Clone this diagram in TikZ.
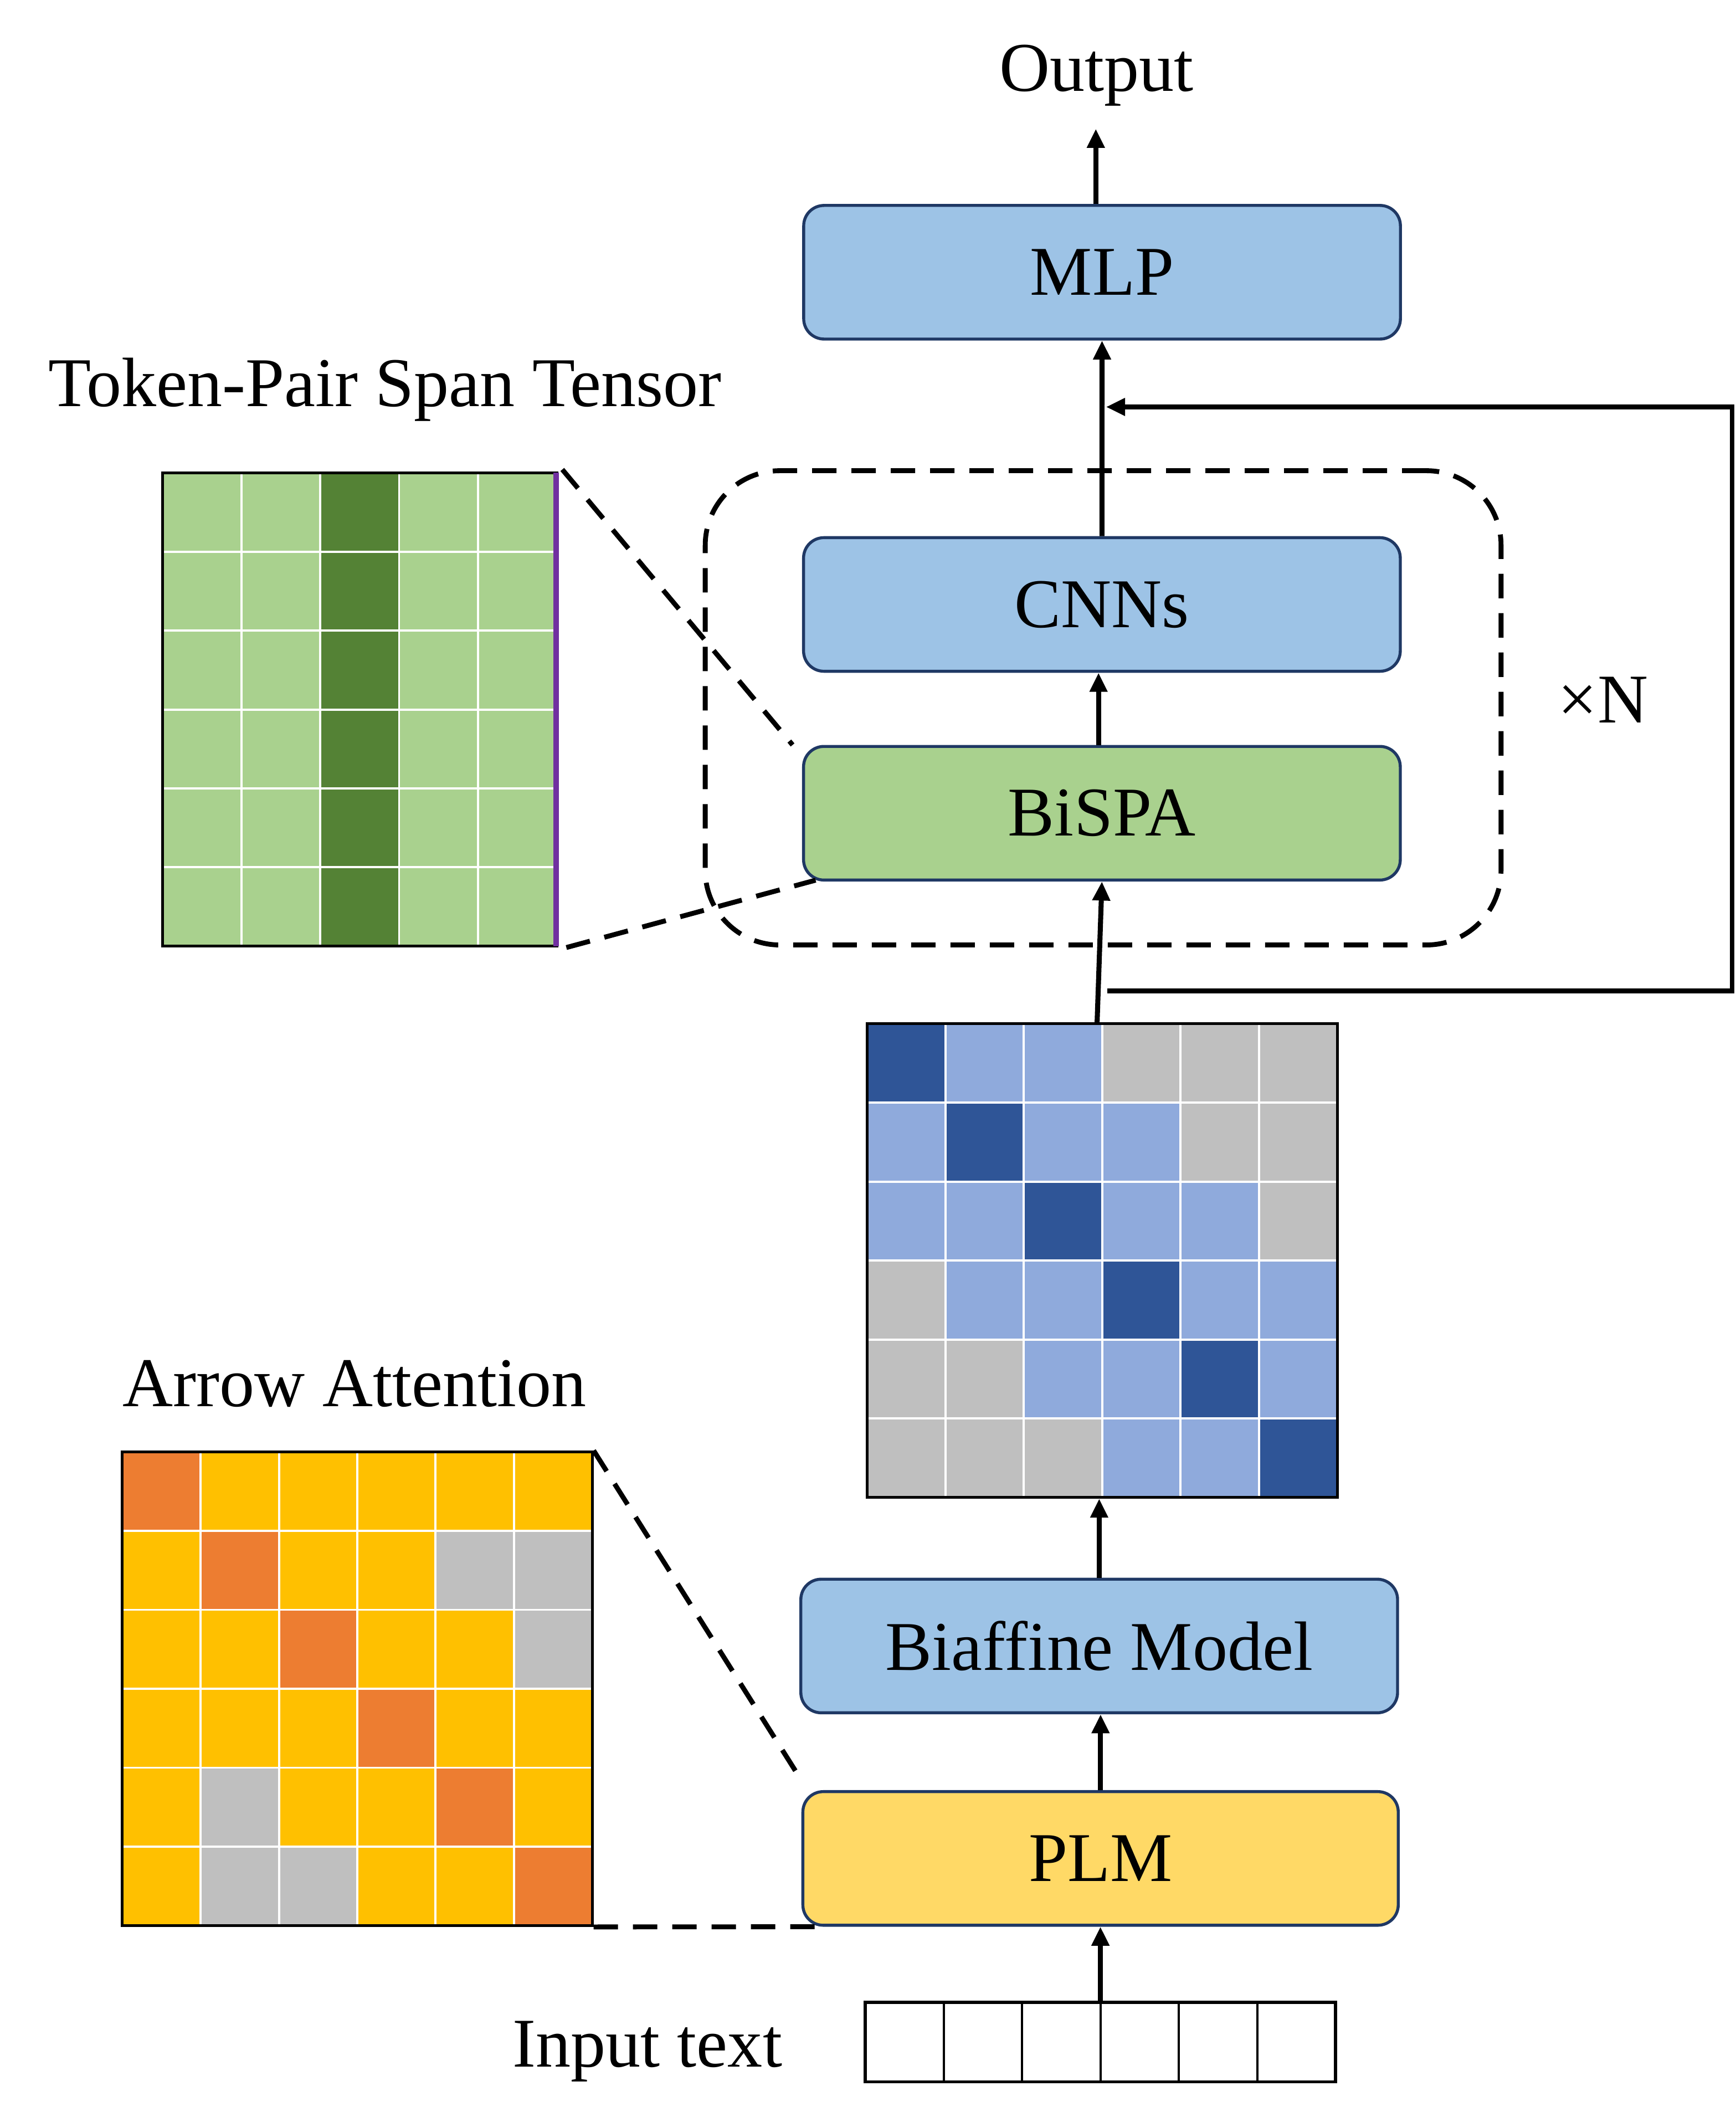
\documentclass[tikz,border=0pt]{standalone}
\usepackage{fontspec}
\setmainfont{Liberation Serif}
\usetikzlibrary{arrows.meta,calc}
\definecolor{boxblue}{HTML}{9DC3E6}
\definecolor{boxgreen}{HTML}{A9D18E}
\definecolor{boxyellow}{HTML}{FFD966}
\definecolor{navy}{HTML}{1F3864}
\definecolor{bD}{HTML}{2F5597}
\definecolor{bL}{HTML}{8FAADC}
\definecolor{gy}{HTML}{BFBFBF}
\definecolor{oO}{HTML}{ED7D31}
\definecolor{oY}{HTML}{FFC000}
\definecolor{gD}{HTML}{548235}
\definecolor{gL}{HTML}{A9D18E}
\definecolor{purp}{HTML}{7030A0}
\begin{document}
\begin{tikzpicture}[x=1pt,y=-1pt,
  blk/.style={draw=navy, line width=2.2pt, rounded corners=15pt, minimum width=440pt, minimum height=98.5pt, inner sep=0pt, font=\fontsize{51.5}{60}\selectfont},
  lbl/.style={inner sep=0pt, font=\fontsize{51.5}{60}\selectfont},
  arr/.style={line width=3.7pt, -{Triangle[length=14pt,width=12.5pt]}},
  dsh/.style={line width=3.6pt, dash pattern=on 18pt off 11pt},
  gridbox/.style={draw=black, line width=2pt, inner sep=0pt},
  cellsep/.style={white, line width=1.6pt}]
\useasboundingbox (0,0) rectangle (1280,1568);

% ---------- main blocks ----------
\node[blk, fill=boxblue] (mlp) at (812.6,200.7) {MLP};
\node[blk, fill=boxblue] (cnns) at (812.5,445.6) {CNNs};
\node[blk, fill=boxgreen] (bispa) at (812.5,599.5) {BiSPA};
\node[blk, fill=boxblue] (biaff) at (810.5,1213.4) {Biaffine Model};
\node[blk, fill=boxyellow, minimum width=439pt] (plm) at (811.5,1370) {PLM};

% ---------- labels ----------
\node[lbl, anchor=base] (output) at (808.5,67) {Output};
\node[lbl, anchor=base] (tpst) at (284,299.5) {Token-Pair Span Tensor};
\node[lbl, anchor=base] (aatt) at (261.5,1036.8) {Arrow Attention};
\node[lbl, anchor=base] (intext) at (477.3,1523.7) {Input text};
\node[lbl, anchor=base] (timesn) at (1182,533) {×N};

% ---------- repeat block (dashed) ----------
\node[draw, dsh, rounded corners=55pt, minimum width=586.8pt, minimum height=349.6pt, inner sep=0pt] (rep) at (813.4,521.8) {};

% ---------- biaffine score matrix ----------
\foreach \row [count=\r from 0] in {{bD,bL,bL,gy,gy,gy},{bL,bD,bL,bL,gy,gy},{bL,bL,bD,bL,bL,gy},{gy,bL,bL,bD,bL,bL},{gy,gy,bL,bL,bD,bL},{gy,gy,gy,bL,bL,bD}}{
  \foreach \c [count=\k from 0] in \row {
    \fill[\c] ({639.4+\k*57.78},{754.7+\r*58.18}) rectangle ++(57.78,58.18);
  }
}
\foreach \k in {1,...,5}{
  \draw[cellsep] ({639.4+\k*57.78},754.7) -- ({639.4+\k*57.78},1103.8);
  \draw[cellsep] (639.4,{754.7+\k*58.18}) -- (986.1,{754.7+\k*58.18});
}
\node[gridbox, minimum width=346.7pt, minimum height=349.1pt] (bm) at (812.75,929.25) {};

% ---------- token-pair span tensor ----------
\foreach \r in {0,...,5}{
  \foreach \c [count=\k from 0] in {gL,gL,gD,gL,gL}{
    \fill[\c] ({119.8+\k*58.16},{348.6+\r*58.15}) rectangle ++(58.16,58.15);
  }
}
\foreach \k in {1,...,4}{
  \draw[cellsep] ({119.8+\k*58.16},348.6) -- ({119.8+\k*58.16},697.5);
}
\foreach \k in {1,...,5}{
  \draw[cellsep] (119.8,{348.6+\k*58.15}) -- (410.6,{348.6+\k*58.15});
}
\node[gridbox, minimum width=290.8pt, minimum height=348.9pt] (tensor) at (265.2,523.05) {};
\draw[purp, line width=4pt] ($(tensor.north east)+(-1.5,1)$) -- ($(tensor.south east)+(-1.5,-1)$);

% ---------- arrow attention ----------
\foreach \row [count=\r from 0] in {{oO,oY,oY,oY,oY,oY},{oY,oO,oY,oY,gy,gy},{oY,oY,oO,oY,oY,gy},{oY,oY,oY,oO,oY,oY},{oY,gy,oY,oY,oO,oY},{oY,gy,gy,oY,oY,oO}}{
  \foreach \c [count=\k from 0] in \row {
    \fill[\c] ({90.2+\k*57.75},{1070.3+\r*58.2}) rectangle ++(57.75,58.2);
  }
}
\foreach \k in {1,...,5}{
  \draw[cellsep] ({90.2+\k*57.75},1070.3) -- ({90.2+\k*57.75},1419.5);
  \draw[cellsep] (90.2,{1070.3+\k*58.2}) -- (436.7,{1070.3+\k*58.2});
}
\node[gridbox, minimum width=346.5pt, minimum height=349.2pt] (attn) at (263.45,1244.9) {};

% ---------- input tokens ----------
\node[draw=black, line width=2.4pt, minimum width=346.8pt, minimum height=58.7pt, inner sep=0pt] (inp) at (811.4,1505.35) {};
\foreach \k in {1,...,5}{
  \draw[black, line width=1.6pt] ({638+\k*57.8},1476) -- ({638+\k*57.8},1534.7);
}

% ---------- zoom (dashed) connectors ----------
\draw[dsh] ($(tensor.north east)+(3,-1.5)$) -- ($(bispa.north west)+(-7,0)$);
\draw[dsh] ($(tensor.south east)+(6,0)$) -- ($(bispa.south west)+(10,-1)$);
\draw[dsh] (attn.north east) -- ($(plm.north west)+(-3,-12)$);
\draw[dsh] (attn.south east) -- ($(plm.south west)+(10,0)$);

% ---------- data-flow arrows ----------
\coordinate (outtip) at (808,95);
\draw[arr] ($(mlp.north)+(-4.6,0)$) -- (outtip);
\draw[arr] (cnns.north) -- (mlp.south);
\draw[arr] ($(bispa.north)+(-2.5,0)$) -- ($(cnns.south)+(-2.5,0)$);
\draw[arr] ($(bm.north)+(-3.8,0)$) -- (bispa.south);
\draw[arr] (biaff.north) -- (bm.south -| biaff.north);
\draw[arr] (plm.north) -- (biaff.south -| plm.north);
\draw[arr] (inp.north) -- (plm.south -| inp.north);

% ---------- feedback loop ----------
\coordinate (fbA) at (816.5,730.5);
\coordinate (fbB) at (1277,730.5);
\coordinate (fbC) at (1277,300);
\coordinate (fbD) at (815.6,300);
\draw[line width=3.3pt, -{Triangle[length=14pt,width=12.5pt]}] (fbA) -- (fbB) -- (fbC) -- (fbD);
\end{tikzpicture}
\end{document}
